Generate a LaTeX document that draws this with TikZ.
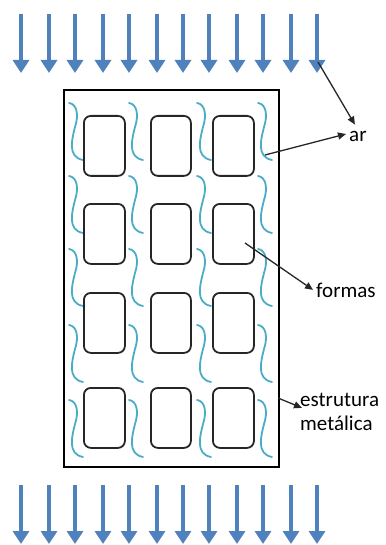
\documentclass[tikz,border=0pt]{standalone}
\usepackage{fontspec}
\setmainfont{Carlito}
\usetikzlibrary{arrows.meta}
\definecolor{flowblue}{HTML}{4F81BD}
\definecolor{airteal}{HTML}{4BACC6}
\definecolor{inkgray}{HTML}{262626}
\begin{document}
\begin{tikzpicture}[x=1pt,y=-1pt,
  flow/.style={draw=flowblue, line width=4pt, -{Triangle[width=16pt,length=13pt]}},
  forma/.style={draw=inkgray, line width=1.8pt, rounded corners=7pt,
    minimum height=60pt, inner sep=0pt, anchor=north west},
  airflow/.style={draw=airteal, line width=1.8pt, line cap=round},
  callout/.style={draw=inkgray, line width=1.3pt, -{Triangle[width=7pt,length=8pt]}},
  lbl/.style={font=\fontsize{21}{24}\selectfont, text=black, inner sep=1pt},
  airwave/.pic={\draw[airflow] (0,0) .. controls (8,1) and (10,12) .. (6,24)
      .. controls (3,36) and (-2,54) .. (14,57);}
]
\useasboundingbox (0,0) rectangle (385,545);

% incoming and outgoing air flow
\foreach \x in {21,49,75,103,129,157,183,209,237,263,291,317} {
  \draw[flow] (\x,14) -- (\x,73);
  \draw[flow] (\x,485) -- (\x,544);
}

% metallic frame
\node[draw=black, line width=1.8pt, minimum width=215pt, minimum height=377pt,
  inner sep=0pt, anchor=north west] (frame) at (63,89) {};

% air streams between the forms
\foreach \yy in {103,176,249,325,400}
  \foreach \xx in {69,129,197,258}
    \pic at (\xx,\yy) {airwave};

% forms, four rows of three
\foreach \r/\yy in {1/115,2/203,3/292,4/387} {
  \node[forma, minimum width=41pt] (f\r1) at (83,\yy) {};
  \node[forma, minimum width=40pt] (f\r2) at (150,\yy) {};
  \node[forma, minimum width=41pt] (f\r3) at (212,\yy) {};
}

% labels
\node[lbl, anchor=base west] (ar) at (348,142) {ar};
\node[lbl, anchor=base west] (formas) at (315,297) {formas};
\node[lbl, anchor=north west, align=left] (estr) at (299,392) {estrutura\\metálica};

% callout sources
\coordinate (flowtip) at (318,62);
\coordinate (streamend) at (265,155);
\coordinate (formin) at (245,243);
\coordinate (frameside) at (278,398);

\draw[callout] (flowtip) -- ([shift={(-3,-6)}]ar.north);
\draw[callout] (streamend) -- ([shift={(-2,-3)}]ar.west);
\draw[callout] (formin) -- ([shift={(-2,0)}]formas.west);
\draw[callout] (frameside) -- ([shift={(3,-4)}]estr.west);
\end{tikzpicture}
\end{document}
